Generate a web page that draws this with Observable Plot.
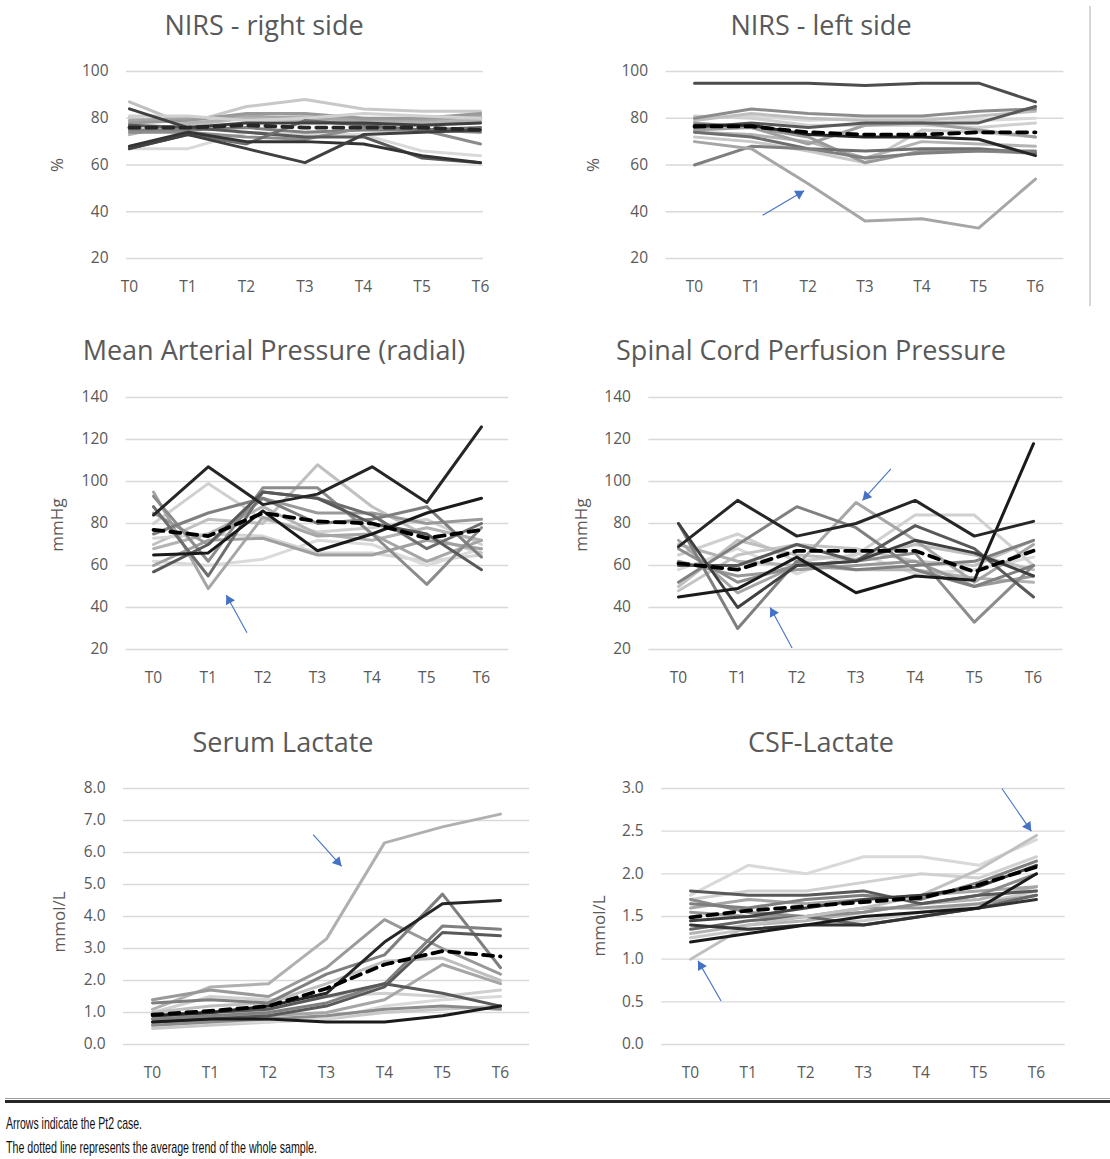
<!DOCTYPE html>
<html>
<head>
<meta charset="utf-8">
<script src="https://cdn.jsdelivr.net/npm/d3@7"></script>
<script src="https://cdn.jsdelivr.net/npm/@observablehq/plot@0.6"></script>
<style>
  body { margin: 0; background: #fff; }
  #root { position: relative; width: 1110px; height: 1159px; overflow: hidden; background: #fff; font-family: "Open Sans", sans-serif; }
  .panel { position: absolute; }
  .title { position: absolute; width: 500px; text-align: center; font-size: 27px; color: #595959; line-height: 1; white-space: nowrap; }
  .ylab { position: absolute; font-size: 17px; color: #595959; white-space: nowrap; transform: translate(-50%, -50%) rotate(-90deg); line-height: 1; }
</style>
</head>
<body>
<div id="root"></div>
<script>
// ---------- shared ----------
const times = ["T0", "T1", "T2", "T3", "T4", "T5", "T6"];
const arrowBlue = "#4472c4";

// ---------- NIRS - right side (%) ----------
const nirsRightSeries = [
  [87, 77, 80, 81, 80, 79, 80],
  [80, 78, 85, 88, 84, 83, 83],
  [79, 80, 81, 80, 79, 79, 81],
  [78, 79, 82, 82, 80, 80, 82],
  [73, 78, 80, 79, 78, 78, 79],
  [81, 81, 79, 80, 82, 81, 80],
  [67, 67, 74, 73, 73, 66, 64],
  [75, 75, 76, 74, 75, 75, 74],
  [74, 74, 72, 71, 76, 75, 69],
  [77, 76, 74, 72, 72, 63, 61],
  [67, 73, 69, 79, 77, 75, 76],
  [84, 76, 78, 78, 78, 77, 78],
  [68, 74, 70, 70, 69, 64, 61],
  [67, 73, 67, 61, 73, 74, 75]
];
const nirsRightShades = ["#bfbfbf", "#c8c8c8", "#a6a6a6", "#999999", "#b3b3b3", "#d0d0d0", "#d9d9d9", "#7f7f7f", "#8c8c8c", "#595959", "#6e6e6e", "#404040", "#333333", "#404040"];
const nirsRightMean = [76, 76, 77, 76, 76, 76, 75];
const nirsRightArrows = [];

// ---------- NIRS - left side (%) ----------
const nirsLeftSeries = [
  [80, 81, 79, 80, 80, 79, 80],
  [81, 80, 77, 77, 77, 76, 78],
  [79, 82, 80, 79, 79, 81, 83],
  [72, 70, 66, 61, 75, 74, 72],
  [74, 73, 70, 63, 70, 69, 68],
  [75, 76, 69, 77, 78, 75, 72],
  [78, 76, 72, 61, 66, 66, 65],
  [80, 84, 82, 81, 81, 83, 84],
  [74, 72, 67, 66, 67, 67, 65],
  [60, 68, 67, 63, 65, 66, 66],
  [76, 78, 76, 78, 78, 78, 85],
  [70, 67, 52, 36, 37, 33, 54],
  [95, 95, 95, 94, 95, 95, 87],
  [77, 77, 73, 72, 72, 71, 64]
];
const nirsLeftShades = ["#d9d9d9", "#d0d0d0", "#bfbfbf", "#c8c8c8", "#b3b3b3", "#a0a0a0", "#999999", "#8c8c8c", "#6e6e6e", "#7f7f7f", "#595959", "#a6a6a6", "#4d4d4d", "#262626"];
const nirsLeftMean = [76.5, 76.5, 74, 73, 73, 74, 74];
const nirsLeftArrows = [{x1: 1.2, y1: 38.5, x2: 1.93, y2: 49}];

// ---------- Mean Arterial Pressure (mmHg) ----------
const mapSeries = [
  [80, 99, 82, 76, 78, 82, 70],
  [70, 82, 80, 108, 88, 74, 66],
  [73, 75, 74, 66, 66, 62, 65],
  [62, 60, 63, 72, 70, 60, 68],
  [68, 75, 88, 75, 72, 78, 72],
  [95, 49, 83, 74, 75, 62, 72],
  [60, 72, 73, 65, 65, 72, 68],
  [85, 70, 92, 85, 85, 80, 82],
  [93, 62, 97, 97, 75, 51, 78],
  [75, 85, 92, 80, 82, 88, 64],
  [88, 55, 95, 92, 84, 68, 80],
  [57, 70, 95, 92, 80, 75, 58],
  [65, 66, 86, 67, 75, 85, 92],
  [84, 107, 89, 94, 107, 90, 126]
];
const mapShades = ["#d0d0d0", "#c0c0c0", "#d4d4d4", "#dadada", "#b3b3b3", "#a6a6a6", "#a0a0a0", "#999999", "#8c8c8c", "#7f7f7f", "#6e6e6e", "#595959", "#1a1a1a", "#262626"];
const mapMean = [77, 74, 85, 81, 80, 73, 77];
const mapArrows = [{x1: 1.71, y1: 28, x2: 1.33, y2: 46}];

// ---------- Spinal Cord Perfusion Pressure (mmHg) ----------
const scppSeries = [
  [58, 68, 56, 66, 56, 58, 64],
  [65, 75, 62, 65, 84, 84, 60],
  [48, 65, 70, 68, 62, 60, 72],
  [50, 72, 65, 63, 70, 65, 58],
  [70, 62, 60, 58, 58, 54, 52],
  [72, 47, 60, 90, 72, 52, 70],
  [62, 55, 58, 60, 62, 50, 55],
  [68, 52, 60, 62, 66, 33, 60],
  [52, 70, 88, 78, 58, 50, 60],
  [80, 30, 62, 58, 60, 62, 72],
  [60, 60, 70, 62, 79, 68, 45],
  [80, 40, 60, 62, 72, 66, 55],
  [45, 49, 64, 47, 55, 53, 118],
  [69, 91, 74, 80, 91, 74, 81]
];
const scppShades = ["#dadada", "#d0d0d0", "#c4c4c4", "#bfbfbf", "#b3b3b3", "#a6a6a6", "#999999", "#8c8c8c", "#808080", "#7f7f7f", "#595959", "#404040", "#1a1a1a", "#262626"];
const scppMean = [61, 58, 67, 67, 67, 57, 67];
const scppArrows = [{x1: 3.59, y1: 106, x2: 3.11, y2: 91}, {x1: 1.92, y1: 20.7, x2: 1.55, y2: 40}];

// ---------- Serum Lactate (mmol/L) ----------
const serumSeries = [
  [0.5, 0.6, 0.7, 0.8, 1.0, 1.1, 1.2],
  [0.6, 0.7, 0.7, 0.8, 1.2, 1.4, 1.5],
  [1.0, 1.5, 1.4, 1.5, 1.6, 1.5, 1.7],
  [1.1, 1.8, 1.9, 3.3, 6.3, 6.8, 7.2],
  [1.0, 1.2, 1.3, 1.9, 2.6, 2.7, 2.0],
  [0.8, 0.9, 0.9, 1.0, 1.4, 2.5, 1.9],
  [0.6, 0.7, 0.8, 0.9, 1.1, 1.2, 1.1],
  [1.4, 1.7, 1.5, 2.4, 3.9, 3.0, 2.2],
  [1.3, 1.4, 1.3, 2.2, 2.8, 4.7, 2.4],
  [0.8, 0.9, 1.0, 1.3, 1.9, 3.7, 3.6],
  [0.7, 0.8, 0.9, 1.2, 1.8, 3.5, 3.4],
  [0.9, 1.0, 1.1, 1.5, 1.9, 1.6, 1.2],
  [0.7, 0.8, 0.8, 0.7, 0.7, 0.9, 1.2],
  [0.9, 1.0, 1.2, 1.6, 3.2, 4.4, 4.5]
];
const serumShades = ["#c8c8c8", "#d9d9d9", "#d0d0d0", "#b0b0b0", "#bfbfbf", "#a6a6a6", "#8c8c8c", "#999999", "#7f7f7f", "#808080", "#595959", "#595959", "#1a1a1a", "#262626"];
const serumMean = [0.93, 1.05, 1.2, 1.75, 2.5, 2.92, 2.75];
const serumArrows = [{x1: 2.77, y1: 6.56, x2: 3.26, y2: 5.57}];

// ---------- CSF-Lactate (mmol/L) ----------
const csfSeries = [
  [1.75, 2.1, 2.0, 2.2, 2.2, 2.1, 2.4],
  [1.7, 1.8, 1.8, 1.9, 2.0, 1.95, 2.2],
  [1.25, 1.35, 1.4, 1.45, 1.55, 1.65, 1.8],
  [1.3, 1.4, 1.45, 1.55, 1.65, 1.7, 1.85],
  [1.6, 1.7, 1.65, 1.7, 1.75, 1.8, 1.85],
  [1.55, 1.5, 1.5, 1.6, 1.6, 1.65, 1.75],
  [1.7, 1.55, 1.5, 1.55, 1.65, 1.75, 2.0],
  [1.65, 1.6, 1.7, 1.75, 1.7, 1.9, 2.15],
  [1.35, 1.45, 1.5, 1.4, 1.5, 1.6, 1.75],
  [1.8, 1.75, 1.75, 1.8, 1.65, 1.75, 1.8],
  [1.0, 1.4, 1.5, 1.6, 1.75, 2.05, 2.45],
  [1.4, 1.35, 1.4, 1.4, 1.5, 1.6, 1.7],
  [1.45, 1.5, 1.6, 1.7, 1.75, 1.85, 2.1],
  [1.2, 1.3, 1.4, 1.5, 1.55, 1.6, 2.0]
];
const csfShades = ["#d9d9d9", "#d0d0d0", "#c8c8c8", "#b3b3b3", "#a6a6a6", "#999999", "#8c8c8c", "#7f7f7f", "#666666", "#595959", "#c0c0c0", "#333333", "#404040", "#1a1a1a"];
const csfMean = [1.49, 1.57, 1.62, 1.67, 1.72, 1.87, 2.08];
const csfArrows = [{x1: 5.4, y1: 3.0, x2: 5.91, y2: 2.5}, {x1: 0.53, y1: 0.51, x2: 0.13, y2: 0.98}];

// ---------- layout of the six panels ----------
const panels = [
  {title: "NIRS - right side", tx: 264, ty: 25, ylabel: "%", lx: 56, ly: 165,
   left: 0, top: 50, width: 555, height: 260, ml: 126, mr: 72, mt: 21, mb: 52, pad: 0.05,
   yDomain: [20, 100], yTicks: 5, yFormat: d3.format("d"),
   series: nirsRightSeries, shades: nirsRightShades, mean: nirsRightMean, meanColor: "#262626", arrows: nirsRightArrows},
  {title: "NIRS - left side", tx: 821, ty: 25, ylabel: "%", lx: 592, ly: 165,
   left: 555, top: 50, width: 555, height: 260, ml: 110.6, mr: 46.6, mt: 21, mb: 52, pad: 0.5,
   yDomain: [20, 100], yTicks: 5, yFormat: d3.format("d"),
   series: nirsLeftSeries, shades: nirsLeftShades, mean: nirsLeftMean, meanColor: "#000000", arrows: nirsLeftArrows},
  {title: "Mean Arterial Pressure (radial)", tx: 274, ty: 350, ylabel: "mmHg", lx: 56, ly: 525,
   left: 0, top: 380, width: 555, height: 320, ml: 125.7, mr: 46.7, mt: 17, mb: 51, pad: 0.5,
   yDomain: [20, 140], yTicks: 7, yFormat: d3.format("d"),
   series: mapSeries, shades: mapShades, mean: mapMean, meanColor: "#000000", arrows: mapArrows},
  {title: "Spinal Cord Perfusion Pressure", tx: 811, ty: 350, ylabel: "mmHg", lx: 580, ly: 525,
   left: 555, top: 380, width: 555, height: 320, ml: 93.4, mr: 47.4, mt: 17, mb: 51, pad: 0.5,
   yDomain: [20, 140], yTicks: 7, yFormat: d3.format("d"),
   series: scppSeries, shades: scppShades, mean: scppMean, meanColor: "#000000", arrows: scppArrows},
  {title: "Serum Lactate", tx: 283, ty: 742, ylabel: "mmol/L", lx: 58, ly: 922,
   left: 0, top: 770, width: 555, height: 320, ml: 123, mr: 26, mt: 18, mb: 46, pad: 0.5,
   yDomain: [0, 8], yTicks: 8, yFormat: d3.format(".1f"),
   series: serumSeries, shades: serumShades, mean: serumMean, meanColor: "#000000", arrows: serumArrows},
  {title: "CSF-Lactate", tx: 821, ty: 742, ylabel: "mmol/L", lx: 598, ly: 926,
   left: 555, top: 770, width: 555, height: 320, ml: 106.2, mr: 45.2, mt: 18, mb: 46, pad: 0.5,
   yDomain: [0, 3], yTicks: 6, yFormat: d3.format(".1f"),
   series: csfSeries, shades: csfShades, mean: csfMean, meanColor: "#000000", arrows: csfArrows}
];

const root = document.getElementById("root");

function drawPanel(c) {
  const xDomain = [-c.pad, times.length - 1 + c.pad];
  const kx = (c.width - c.ml - c.mr) / (xDomain[1] - xDomain[0]);
  const ky = (c.height - c.mt - c.mb) / (c.yDomain[1] - c.yDomain[0]);
  const grid = d3.ticks(c.yDomain[0], c.yDomain[1], c.yTicks);
  const marks = [Plot.ruleY(grid, {stroke: "#d9d9d9", strokeWidth: 1.3})];
  c.series.forEach((vals, i) => {
    const rows = vals.map((v, t) => ({t, v}));
    marks.push(Plot.line(rows, {x: "t", y: "v", stroke: c.shades[i], strokeWidth: 3}));
  });
  const meanRows = c.mean.map((v, t) => ({t, v}));
  marks.push(Plot.line(meanRows, {x: "t", y: "v", stroke: c.meanColor, strokeWidth: 3.8, strokeDasharray: "10,7"}));
  if (c.arrows.length) {
    const r = 3.8;
    const back = 2 * Math.sqrt((Math.PI * r * r) / (3 * Math.sqrt(3)));
    const heads = c.arrows.map(a => {
      const dx = (a.x2 - a.x1) * kx, dy = -(a.y2 - a.y1) * ky;
      const len = Math.hypot(dx, dy), ux = dx / len, uy = dy / len;
      return {x: a.x2 - back * ux / kx, y: a.y2 + back * uy / ky, a: Math.atan2(ux, -uy) * 180 / Math.PI};
    });
    marks.push(Plot.link(c.arrows, {x1: "x1", y1: "y1", x2: "x2", y2: "y2", stroke: arrowBlue, strokeWidth: 1.1}));
    marks.push(Plot.dot(heads, {x: "x", y: "y", symbol: "triangle", r, fill: arrowBlue, stroke: "none", rotate: "a"}));
  }
  const svg = Plot.plot({
    width: c.width, height: c.height,
    marginLeft: c.ml, marginRight: c.mr, marginTop: c.mt, marginBottom: c.mb,
    x: {domain: xDomain, ticks: 7, tickFormat: d => times[d] ?? "", tickSize: 0, tickPadding: 22, label: null},
    y: {domain: c.yDomain, ticks: c.yTicks, tickFormat: c.yFormat, tickSize: 0, tickPadding: 18, label: null},
    style: {fontFamily: "Open Sans, sans-serif", fontSize: "15.5px", color: "#595959", background: "transparent", overflow: "visible"},
    marks
  });
  const wrap = document.createElement("div");
  wrap.className = "panel";
  wrap.style.left = c.left + "px";
  wrap.style.top = c.top + "px";
  wrap.appendChild(svg);
  root.appendChild(wrap);

  const t = document.createElement("div");
  t.className = "title";
  t.textContent = c.title;
  t.style.left = (c.tx - 250) + "px";
  t.style.top = (c.ty - 14) + "px";
  root.appendChild(t);

  const yl = document.createElement("div");
  yl.className = "ylab";
  yl.textContent = c.ylabel;
  yl.style.left = c.lx + "px";
  yl.style.top = c.ly + "px";
  root.appendChild(yl);
}

panels.forEach(drawPanel);

// separator and footnote
const vline = document.createElement("div");
vline.style.cssText = "position:absolute;left:1089px;top:6px;width:2px;height:300px;background:#d6d6d6;";
root.appendChild(vline);
const hl1 = document.createElement("div");
hl1.style.cssText = "position:absolute;left:5px;top:1098px;width:1105px;height:1px;background:#9a9a9a;";
root.appendChild(hl1);
const hl2 = document.createElement("div");
hl2.style.cssText = "position:absolute;left:5px;top:1100px;width:1105px;height:3px;background:#262626;";
root.appendChild(hl2);

const notes = ["Arrows indicate the Pt2 case.", "The dotted line represents the average trend of the whole sample."];
const noteWidths = [136, 311];
const ns = d3.create("svg").attr("width", 600).attr("height", 51)
  .style("position", "absolute").style("left", "0px").style("top", "1108px");
notes.forEach((s, i) => {
  ns.append("text").attr("x", 6).attr("y", 21 + i * 24)
    .attr("textLength", noteWidths[i]).attr("lengthAdjust", "spacingAndGlyphs")
    .attr("font-family", "'Liberation Sans Narrow', 'Liberation Sans', sans-serif")
    .attr("font-size", 17).attr("fill", "#111").text(s);
});
root.appendChild(ns.node());
</script>
</body>
</html>
